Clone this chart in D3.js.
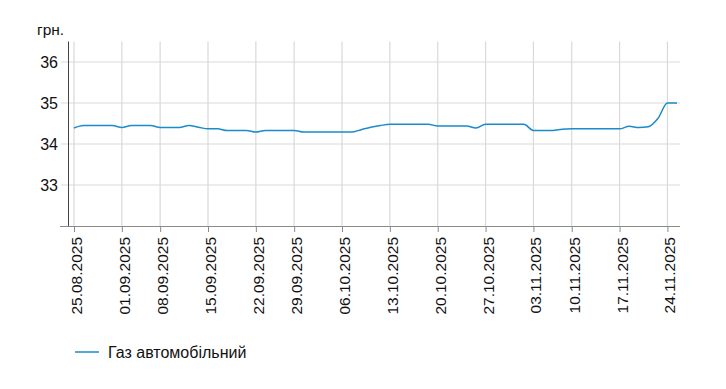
<!DOCTYPE html>
<html>
<head>
<meta charset="utf-8">
<script src="https://cdn.jsdelivr.net/npm/d3@7"></script>
<style>
  body { margin: 0; background: #fff; }
  text { font-family: "Liberation Sans", Arial, sans-serif; fill: #111; }
</style>
</head>
<body>
<script>
// price per day (only days that have a quote)
var dates = ["25.08.2025","26.08.2025","27.08.2025","28.08.2025","29.08.2025",
             "01.09.2025","02.09.2025","03.09.2025","04.09.2025",
             "08.09.2025","09.09.2025","10.09.2025","11.09.2025","12.09.2025",
             "15.09.2025","16.09.2025","17.09.2025","18.09.2025","19.09.2025",
             "22.09.2025","23.09.2025","24.09.2025","25.09.2025",
             "29.09.2025","30.09.2025","01.10.2025","02.10.2025","03.10.2025",
             "06.10.2025","07.10.2025","08.10.2025","09.10.2025","10.10.2025",
             "13.10.2025","14.10.2025","15.10.2025","16.10.2025","17.10.2025",
             "20.10.2025","21.10.2025","22.10.2025","23.10.2025","24.10.2025",
             "27.10.2025","28.10.2025","29.10.2025","30.10.2025","31.10.2025",
             "03.11.2025","04.11.2025","05.11.2025","06.11.2025",
             "10.11.2025","11.11.2025","12.11.2025","13.11.2025","14.11.2025",
             "17.11.2025","18.11.2025","19.11.2025","20.11.2025","21.11.2025",
             "24.11.2025","25.11.2025"];
var gasPrice = [34.39,34.45,34.45,34.45,34.45,
                34.40,34.45,34.45,34.45,
                34.40,34.40,34.40,34.45,34.41,
                34.37,34.37,34.33,34.33,34.33,
                34.29,34.33,34.33,34.33,
                34.33,34.29,34.29,34.29,34.29,
                34.29,34.29,34.35,34.41,34.45,
                34.48,34.48,34.48,34.48,34.48,
                34.44,34.44,34.44,34.44,34.39,
                34.48,34.48,34.48,34.48,34.48,
                34.33,34.33,34.33,34.36,
                34.37,34.37,34.37,34.37,34.37,
                34.37,34.43,34.40,34.42,34.62,
                35.00,35.00];
var tickDates = ["25.08.2025","01.09.2025","08.09.2025","15.09.2025","22.09.2025",
                 "29.09.2025","06.10.2025","13.10.2025","20.10.2025","27.10.2025",
                 "03.11.2025","10.11.2025","17.11.2025","24.11.2025"];
var yTicks = [33, 34, 35, 36];
var seriesName = "Газ автомобільний";
var unitLabel = "грн.";

var W = 726, H = 389;
var plotLeft = 68, plotRight = 680, plotTop = 41.5, plotBottom = 226;

var svg = d3.select("body").append("svg")
    .attr("width", W).attr("height", H);

var x = d3.scalePoint().domain(dates).range([74, 677]);
var y = d3.scaleLinear().domain([32, 36.5]).range([plotBottom, plotTop]);

// horizontal grid
svg.append("g").selectAll("line").data(yTicks).enter().append("line")
    .attr("x1", 61).attr("x2", plotRight)
    .attr("y1", function(d){ return y(d); }).attr("y2", function(d){ return y(d); })
    .attr("stroke", "#d9d9d9").attr("stroke-width", 1.2);

// vertical grid
svg.append("g").selectAll("line").data(tickDates).enter().append("line")
    .attr("x1", function(d){ return x(d); }).attr("x2", function(d){ return x(d); })
    .attr("y1", plotTop).attr("y2", plotBottom)
    .attr("stroke", "#d9d9d9").attr("stroke-width", 1.2);

// x axis
var xAxis = svg.append("g").attr("transform", "translate(0," + plotBottom + ")")
    .call(d3.axisBottom(x).tickValues(tickDates).tickSize(6).tickSizeOuter(0));
xAxis.select(".domain").attr("d", "M60,0.5H" + plotRight).attr("stroke", "#8a8a8a");
xAxis.selectAll(".tick line").attr("stroke", "#8a8a8a");
xAxis.selectAll(".tick text")
    .attr("font-size", 15.5)
    .attr("font-family", "Liberation Sans, Arial, sans-serif")
    .attr("fill", "#111")
    .attr("transform", "rotate(-90)")
    .attr("text-anchor", "end")
    .attr("x", -11).attr("y", 2).attr("dy", "0.35em");

// y axis
var yAxis = svg.append("g").attr("transform", "translate(" + plotLeft + ",0)")
    .call(d3.axisLeft(y).tickValues(yTicks).tickFormat(d3.format("d")).tickSize(0).tickPadding(10));
yAxis.select(".domain").attr("d", "M0.5," + plotTop + "V" + plotBottom).attr("stroke", "#444");
yAxis.selectAll(".tick text")
    .attr("font-size", 16)
    .attr("font-family", "Liberation Sans, Arial, sans-serif")
    .attr("fill", "#111");

svg.append("text").attr("x", 37).attr("y", 35)
    .attr("font-size", 15.5).text(unitLabel);

// series line
var line = d3.line()
    .x(function(d, i){ return x(dates[i]); })
    .y(function(d){ return y(d); })
    .curve(d3.curveMonotoneX);
svg.append("path").datum(gasPrice)
    .attr("d", line)
    .attr("fill", "none")
    .attr("stroke", "#1b8bcb")
    .attr("stroke-width", 1.5);

// legend
svg.append("line").attr("x1", 75).attr("x2", 99).attr("y1", 352).attr("y2", 352)
    .attr("stroke", "#1b8bcb").attr("stroke-width", 1.5);
svg.append("text").attr("x", 108).attr("y", 358)
    .attr("font-size", 16).text(seriesName);
</script>
</body>
</html>
